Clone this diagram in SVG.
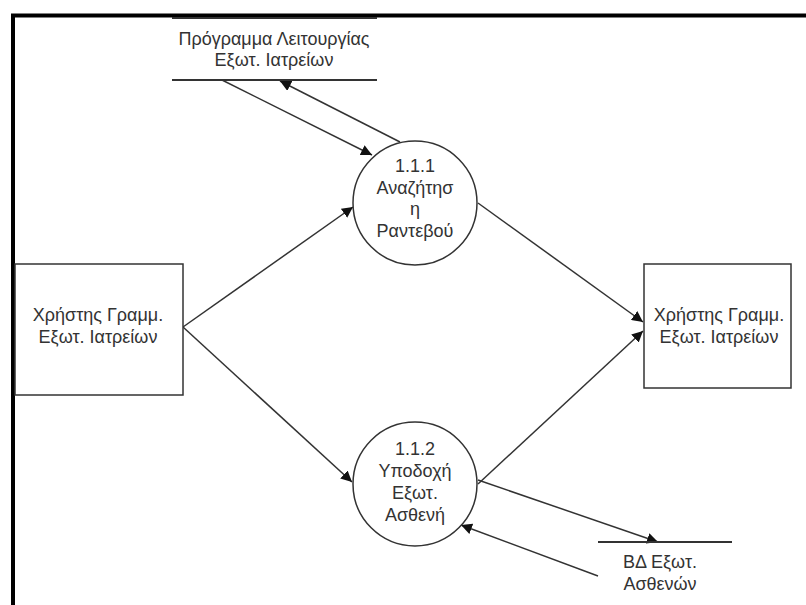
<svg xmlns="http://www.w3.org/2000/svg" width="806" height="605" viewBox="0 0 806 605">
  <style>
    .frame { fill: none; stroke: #000; stroke-width: 4; }
    .shape { fill: #fff; stroke: #333; stroke-width: 1.5; }
    .store { stroke: #333; stroke-width: 2; }
    .flow { fill: none; stroke: #333; stroke-width: 1.5; marker-end: url(#arrow); }
    text { font-family: "Liberation Sans", Arial, sans-serif; font-size: 18px; fill: #333; text-anchor: middle; }
  </style>
  <defs>
    <marker id="arrow" viewBox="0 0 10 10" refX="10" refY="5" markerWidth="11" markerHeight="11" markerUnits="userSpaceOnUse" orient="auto">
      <path d="M0,0 L10,5 L0,10 z" fill="#111"/>
    </marker>
  </defs>
  <rect width="806" height="605" fill="#fff"/>
  <!-- page frame -->
  <path class="frame" d="M13,620 L13,15.5 L820,15.5"/>

  <g id="connectors">
    <line class="flow" x1="183" y1="327" x2="353" y2="207"/>
    <line class="flow" x1="183" y1="327" x2="352" y2="482"/>
    <line class="flow" x1="478" y1="203" x2="643" y2="322"/>
    <line class="flow" x1="478" y1="484" x2="643" y2="331"/>
    <line class="flow" x1="222" y1="80" x2="372" y2="155"/>
    <line class="flow" x1="400" y1="142" x2="280" y2="81"/>
    <line class="flow" x1="478" y1="480" x2="658" y2="542"/>
    <line class="flow" x1="598" y1="576" x2="461" y2="525"/>
  </g>

  <g id="store-schedule">
    <line class="store" x1="172" y1="18" x2="377" y2="18"/>
    <line class="store" x1="172" y1="80" x2="377" y2="80"/>
    <text x="274" y="45">Πρόγραμμα Λειτουργίας</text>
    <text x="274" y="66">Εξωτ. Ιατρείων</text>
  </g>

  <g id="user-left">
    <rect class="shape" x="15" y="264" width="168" height="131"/>
    <text x="98" y="321">Χρήστης Γραμμ.</text>
    <text x="98" y="343">Εξωτ. Ιατρείων</text>
  </g>

  <g id="user-right">
    <rect class="shape" x="644" y="264" width="147" height="124"/>
    <text x="719" y="321">Χρήστης Γραμμ.</text>
    <text x="719" y="343">Εξωτ. Ιατρείων</text>
  </g>

  <g id="process-1-1-1">
    <circle class="shape" cx="415" cy="203" r="62"/>
    <text x="415" y="172">1.1.1</text>
    <text x="415" y="194">Αναζήτησ</text>
    <text x="415" y="215">η</text>
    <text x="415" y="237">Ραντεβού</text>
  </g>

  <g id="process-1-1-2">
    <circle class="shape" cx="415" cy="484" r="62"/>
    <text x="415" y="455">1.1.2</text>
    <text x="415" y="477">Υποδοχή</text>
    <text x="415" y="499">Εξωτ.</text>
    <text x="415" y="521">Ασθενή</text>
  </g>

  <g id="store-patients">
    <line class="store" x1="598" y1="542" x2="732" y2="542"/>
    <text x="660" y="568">ΒΔ Εξωτ.</text>
    <text x="660" y="590">Ασθενών</text>
  </g>
</svg>
